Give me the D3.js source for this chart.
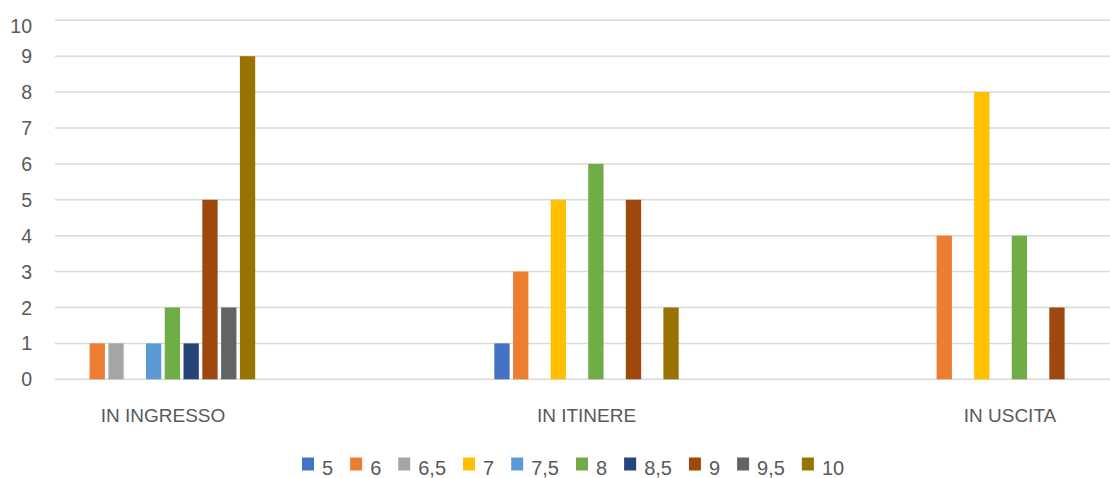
<!DOCTYPE html>
<html>
<head>
<meta charset="utf-8">
<script src="https://cdn.jsdelivr.net/npm/d3@7"></script>
<style>
  html, body { margin: 0; padding: 0; background: #fff; }
  svg { display: block; }
  text { font-family: "Liberation Sans", Arial, sans-serif; fill: #595959; }
</style>
</head>
<body>
<svg id="chart" width="1110" height="478"></svg>
<script>
// ---- data ----
const categories = ["IN INGRESSO", "IN ITINERE", "IN USCITA"];
const seriesNames = ["5", "6", "6,5", "7", "7,5", "8", "8,5", "9", "9,5", "10"];
const seriesColors = ["#4472C4", "#ED7D31", "#A5A5A5", "#FFC000", "#5B9BD5", "#70AD47", "#264478", "#9E480E", "#636363", "#997300"];
// values per series, in category order
const s5   = [0, 1, 0];
const s6   = [1, 3, 4];
const s6_5 = [1, 0, 0];
const s7   = [0, 5, 8];
const s7_5 = [1, 0, 0];
const s8   = [2, 6, 4];
const s8_5 = [1, 0, 0];
const s9   = [5, 5, 2];
const s9_5 = [2, 0, 0];
const s10  = [9, 2, 0];
const seriesValues = [s5, s6, s6_5, s7, s7_5, s8, s8_5, s9, s9_5, s10];
const yTicks = [0, 1, 2, 3, 4, 5, 6, 7, 8, 9, 10];

// ---- layout ----
const svg = d3.select("#chart");
const gridLeft = 55, gridRight = 1110;
const y = d3.scaleLinear().domain([0, 10]).range([379.3, 20.3]);
const x0 = d3.scaleBand().domain(categories).range([-48.75, 1221.75]).padding(0);
const groupWidth = 184.4;
const x1 = d3.scaleBand().domain(seriesNames)
  .range([0, groupWidth]).paddingInner(0.185).paddingOuter(0);

// gridlines
svg.append("g").selectAll("line").data(yTicks).join("line")
  .attr("x1", gridLeft).attr("x2", gridRight)
  .attr("y1", d => y(d)).attr("y2", d => y(d))
  .attr("stroke", "#d9d9d9").attr("stroke-width", 1.5);

// y labels
svg.append("g").selectAll("text").data(yTicks).join("text")
  .attr("x", 32)
  .attr("y", d => Math.max(y(d), 26))
  .attr("dy", "0.36em")
  .attr("text-anchor", "end")
  .attr("font-size", 19.5)
  .text(d => d);

// bars
const groups = svg.append("g").selectAll("g").data(categories).join("g")
  .attr("transform", c => `translate(${x0(c) + x0.bandwidth() / 2 - groupWidth / 2},0)`);
groups.selectAll("rect")
  .data((c, ci) => seriesNames.map((s, si) => ({ s, si, v: seriesValues[si][ci] })))
  .join("rect")
  .attr("x", d => x1(d.s))
  .attr("width", x1.bandwidth())
  .attr("y", d => y(d.v))
  .attr("height", d => y(0) - y(d.v))
  .attr("fill", d => seriesColors[d.si]);

// category labels
svg.append("g").selectAll("text").data(categories).join("text")
  .attr("x", c => x0(c) + x0.bandwidth() / 2)
  .attr("y", 422)
  .attr("text-anchor", "middle")
  .attr("font-size", 19)
  .text(c => c);

// legend
const legend = svg.append("g");
const items = legend.selectAll("g").data(seriesNames).join("g");
items.append("rect")
  .attr("width", 12).attr("height", 13)
  .attr("y", 457.5)
  .attr("fill", (d, i) => seriesColors[i]);
items.append("text")
  .attr("x", 20).attr("y", 475)
  .attr("font-size", 20)
  .text(d => d);
let xpos = 0;
const positions = [];
items.each(function () {
  const w = d3.select(this).select("text").node().getComputedTextLength();
  positions.push(xpos);
  xpos += 20 + w + 17;
});
const startX = 302;
items.attr("transform", (d, i) => `translate(${startX + positions[i]},0)`);
</script>
</body>
</html>
